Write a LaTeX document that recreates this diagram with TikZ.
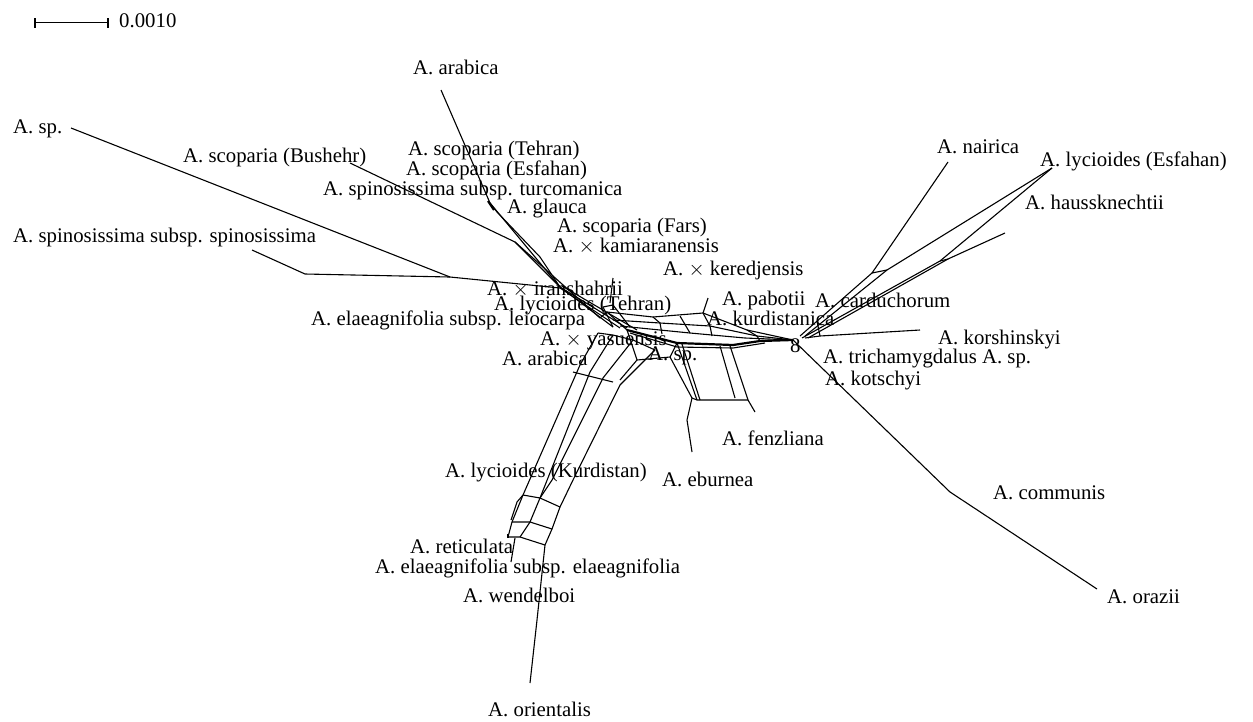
\documentclass[tikz,border=0pt]{standalone}
\usepackage{fontspec}
\setmainfont{Liberation Serif}
\begin{document}
\begin{tikzpicture}[x=1pt,y=-1pt,
  lbl/.style={anchor=base west,inner sep=0pt,font=\fontsize{20.8}{22}\selectfont},
  edge/.style={line width=1.1pt,line join=round},
  heavy/.style={line width=2.2pt,line join=round}]
\useasboundingbox (0,0) rectangle (1253,721);

% scale bar
\coordinate (sbL) at (35,22.5);
\coordinate (sbR) at (108,22.5);
\draw[edge] (sbL) -- (sbR);
\draw[edge] ([yshift=-5pt]sbL) -- ([yshift=5pt]sbL);
\draw[edge] ([yshift=-5pt]sbR) -- ([yshift=5pt]sbR);
\node[lbl] (scale) at (119,27) {0.0010};

% labels
\node[lbl] (arabT) at (413,74) {A. arabica};
\node[lbl] (spL) at (13,133) {A. sp.};
\node[lbl] (bush) at (183,162) {A. scoparia (Bushehr)};
\node[lbl] (teh) at (408,155) {A. scoparia (Tehran)};
\node[lbl] (esf) at (406,175) {A. scoparia (Esfahan)};
\node[lbl] (turc) at (323,195) {A. spinosissima subsp. turcomanica};
\node[lbl] (glauca) at (507,213) {A. glauca};
\node[lbl] (fars) at (557,232) {A. scoparia (Fars)};
\node[lbl] (kami) at (553,252) {A. $\times$ kamiaranensis};
\node[lbl] (kered) at (663,275) {A. $\times$ keredjensis};
\node[lbl] (spin) at (13,242) {A. spinosissima subsp. spinosissima};
\node[lbl] (iran) at (487,295) {A. $\times$ iranshahrii};
\node[lbl] (lyT) at (494,310) {A. lycioides (Tehran)};
\node[lbl] (leio) at (311,325) {A. elaeagnifolia subsp. leiocarpa};
\node[lbl] (yasu) at (540,345) {A. $\times$ yasuensis};
\node[lbl] (arabB) at (502,365) {A. arabica};
\node[lbl] (spC) at (648,360) {A. sp.};
\node[lbl] (pab) at (722,305) {A. pabotii};
\node[lbl] (kurd) at (707,325) {A. kurdistanica};
\node[lbl] (card) at (815,307) {A. carduchorum};
\node[lbl] (kors) at (938,344) {A. korshinskyi};
\node[lbl] (eight) at (790,352) {8};
\node[lbl] (trich) at (823,363) {A. trichamygdalus A. sp.};
\node[lbl] (kots) at (825,385) {A. kotschyi};
\node[lbl] (fenz) at (722,445) {A. fenzliana};
\node[lbl] (ebur) at (662,486) {A. eburnea};
\node[lbl] (lyK) at (445,477) {A. lycioides (Kurdistan)};
\node[lbl] (reti) at (410,553) {A. reticulata};
\node[lbl] (elae) at (375,573) {A. elaeagnifolia subsp. elaeagnifolia};
\node[lbl] (wend) at (463,602) {A. wendelboi};
\node[lbl] (orie) at (488,716) {A. orientalis};
\node[lbl] (nair) at (937,153) {A. nairica};
\node[lbl] (lyE) at (1040,166) {A. lycioides (Esfahan)};
\node[lbl] (haus) at (1025,209) {A. haussknechtii};
\node[lbl] (comm) at (993,499) {A. communis};
\node[lbl] (oraz) at (1107,603) {A. orazii};

% ---------- upper-left branches
\draw[edge] (441,90) -- (490,203) -- (560,287) -- (627,328);
\draw[edge] (490,203) -- (497,212) -- (540,257) -- (560,287);
\draw[heavy] (488,201) -- (494,210);
\draw[edge] (350,163) -- (515,242) -- (560,287);
\draw[edge] (71,128) -- (450,277);
\draw[edge] (252,250) -- (305,274) -- (450,277) -- (560,288);
\draw[edge] (560,287) -- (613,327);
\draw[edge] (562,286) -- (637,330);
\draw[edge] (560,288) -- (620,328);
\draw[edge] (515,242) -- (600,318);
\draw[edge] (613,278) -- (610,303);
\draw[edge] (603,307) -- (613,305) -- (630,327);
\draw[edge] (603,307) -- (613,327);

% ---------- central strip
\draw[edge] (600,318) -- (607,312) -- (653,317) -- (703,313) -- (747,330) -- (793,340);
\draw[edge] (613,320) -- (660,323) -- (710,326) -- (757,336) -- (793,340);
\draw[edge] (620,326) -- (690,333) -- (745,338) -- (793,340);
\draw[heavy] (627,330) -- (677,343) -- (733,345) -- (760,341) -- (793,340);
\draw[edge] (630,333) -- (677,347) -- (733,348) -- (765,343);
\draw[edge] (653,317) -- (660,323) -- (662,334);
\draw[edge] (703,313) -- (710,326) -- (712,336);
\draw[edge] (747,330) -- (757,336) -- (760,341);
\draw[edge] (680,316) -- (690,333);
\draw[edge] (703,313) -- (708,298);
\draw[edge] (607,312) -- (627,330);

% ---------- lower-left band
\draw[edge] (598,333) -- (613,335) -- (633,340) -- (655,350);
\draw[edge] (598,333) -- (580,365) -- (523,495);
\draw[edge] (613,335) -- (590,372) -- (540,498);
\draw[edge] (633,340) -- (603,378) -- (552,480) -- (540,498);
\draw[edge] (655,350) -- (620,385) -- (573,480) -- (560,507);
\draw[edge] (573,372) -- (613,382);
\draw[edge] (523,495) -- (540,498) -- (560,507);
\draw[edge] (512,522) -- (530,522) -- (552,529);
\draw[edge] (508,537) -- (520,537) -- (545,545);
\draw[edge] (523,495) -- (512,522) -- (508,537);
\draw[edge] (540,498) -- (530,522) -- (520,537);
\draw[edge] (560,507) -- (552,529) -- (545,545);
\draw[edge] (523,495) -- (517,502) -- (511,520);
\draw[heavy] (508,534) -- (508,538);
\draw[edge] (515,538) -- (511,562);
\draw[edge] (545,545) -- (537,620) -- (530,683);

% ---------- eburnea / fenzliana
\draw[edge] (620,380) -- (637,360) -- (670,357) -- (692,398) -- (687,420) -- (692,452);
\draw[edge] (637,360) -- (627,330);
\draw[edge] (670,357) -- (677,343);
\draw[edge] (677,343) -- (697,400);
\draw[edge] (682,344) -- (700,400);
\draw[edge] (692,398) -- (697,400) -- (748,400);
\draw[edge] (720,346) -- (735,398);
\draw[edge] (730,346) -- (748,400) -- (755,412);

% ---------- right fan
\draw[edge] (948,162) -- (872,273) -- (800,336);
\draw[edge] (1052,168) -- (887,270) -- (872,273);
\draw[edge] (1052,168) -- (940,261) -- (802,338);
\draw[edge] (1005,233) -- (948,259) -- (940,261);
\draw[edge] (887,270) -- (805,336);
\draw[edge] (948,259) -- (808,338);
\draw[edge] (817,321) -- (820,336);
\draw[edge] (805,338) -- (820,336) -- (920,330);
\draw[edge] (793,340) -- (950,492) -- (1097,589);
\end{tikzpicture}
\end{document}
